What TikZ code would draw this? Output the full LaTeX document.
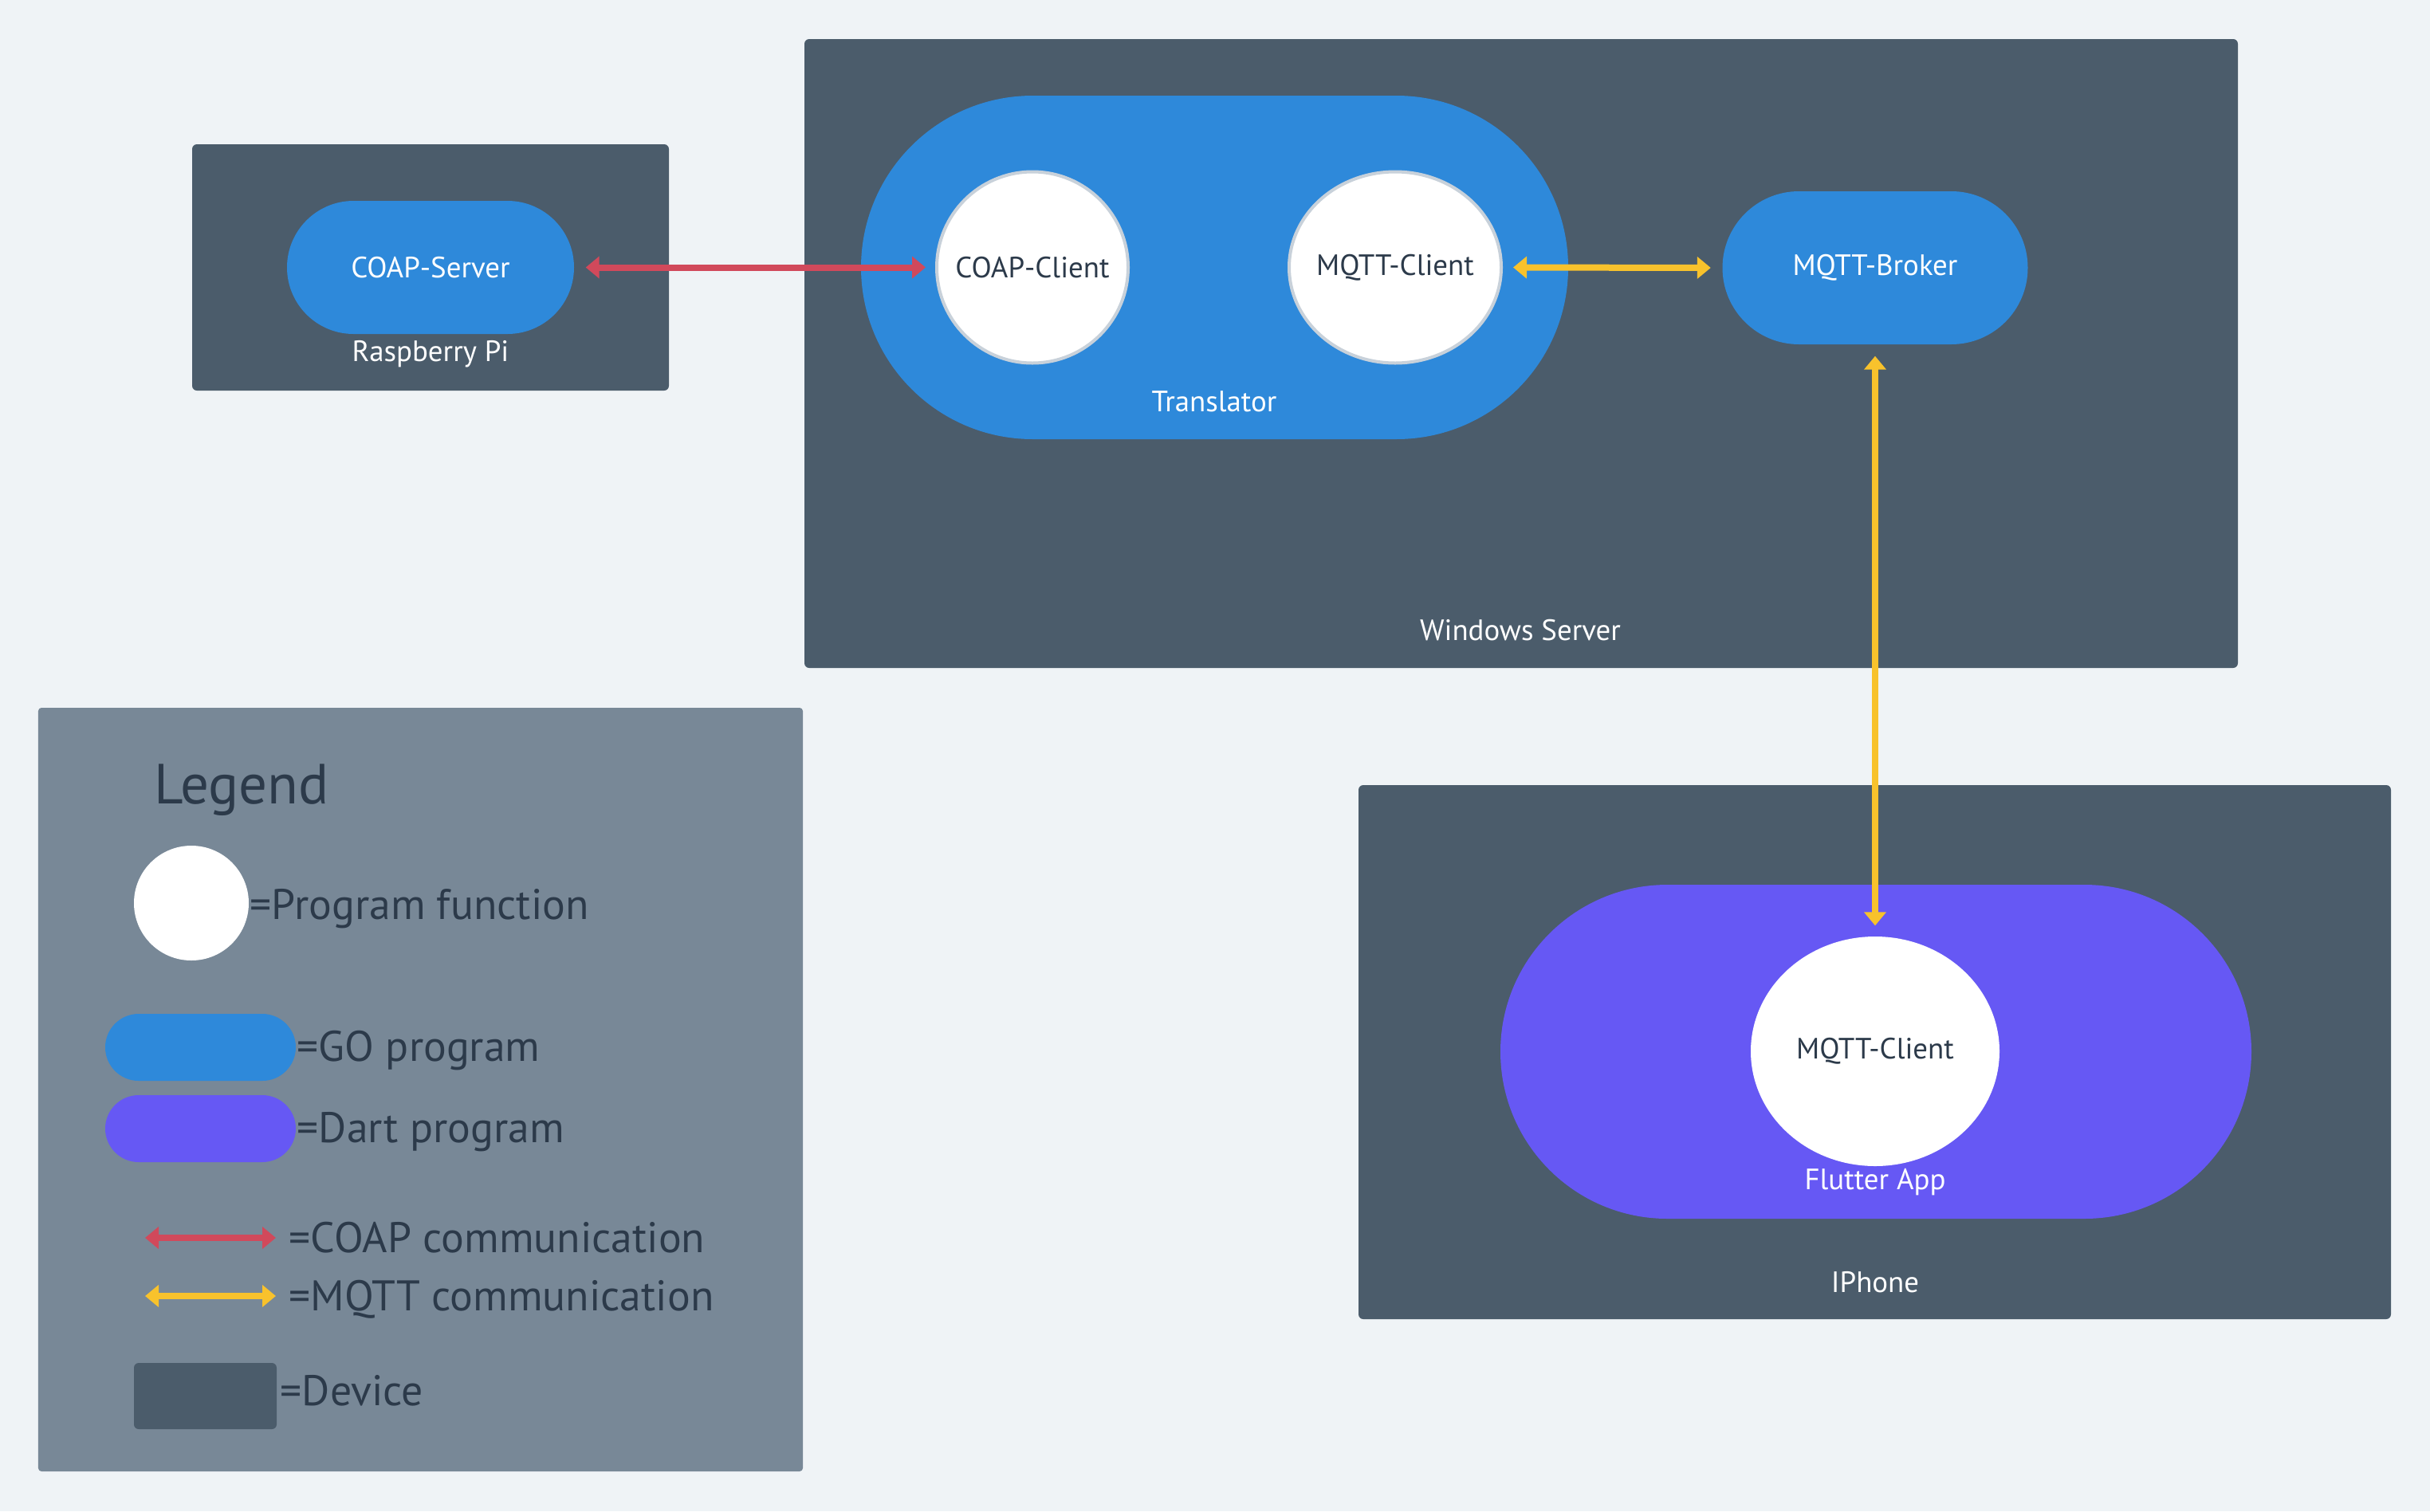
\documentclass[tikz,border=0pt]{standalone}
\usepackage{fontspec}
\setmainfont{PT Sans}
\usetikzlibrary{arrows.meta,shapes.geometric}
\definecolor{bg}{HTML}{EFF3F6}
\definecolor{dev}{HTML}{4B5C6B}
\definecolor{goblue}{HTML}{2E89DA}
\definecolor{dart}{HTML}{6658F4}
\definecolor{coap}{HTML}{D1495B}
\definecolor{mqtt}{HTML}{F8C22C}
\definecolor{legbg}{HTML}{788897}
\definecolor{ink}{HTML}{2C3A4A}
\definecolor{ring}{HTML}{C8D1DA}
\begin{document}
\begin{tikzpicture}[x=1cm,y=-1cm,
  device/.style={rectangle, fill=dev, rounded corners=0.06cm, inner sep=0pt},
  gopill/.style={rectangle, fill=goblue, inner sep=0pt, text=white, font=\fontsize{10.5}{12}\selectfont},
  dartpill/.style={rectangle, fill=dart, inner sep=0pt},
  func/.style={ellipse, fill=white, inner sep=0pt},
  functext/.style={text=ink, inner sep=0pt, font=\fontsize{10.5}{12}\selectfont},
  ringed/.style={draw=ring, line width=0.04cm},
  lbl/.style={text=white, inner sep=0pt, font=\fontsize{10.5}{12}\selectfont},
  legtext/.style={text=ink, inner sep=0pt, anchor=base west, font=\fontsize{15.3}{18}\selectfont},
  link/.style={line width=0.08cm, {Triangle[length=0.17cm,width=0.27cm]}-{Triangle[length=0.17cm,width=0.27cm]}}
]
\useasboundingbox (0,0) rectangle (30.48,18.96);
\fill[bg] (0,0) rectangle (30.48,18.96);

% devices
\node[device, minimum width=5.98cm, minimum height=3.09cm] (rpi) at (5.40,3.355) {};
\node[device, minimum width=17.98cm, minimum height=7.89cm] (win) at (19.08,4.435) {};
\node[device, minimum width=12.95cm, minimum height=6.70cm] (iphone) at (23.515,13.20) {};

% raspberry pi
\node[gopill, minimum width=3.60cm, minimum height=1.67cm, rounded corners=0.835cm] (cserver) at (5.40,3.355) {COAP-Server};
\node[lbl] (rpilbl) at (5.40,4.44) {Raspberry Pi};

% windows server
\node[gopill, minimum width=8.87cm, minimum height=4.31cm, rounded corners=2.155cm] (trans) at (15.235,3.355) {};
\node[lbl] (translbl) at (15.23,5.04) {Translator};
\node[func, ringed, minimum width=2.40cm, minimum height=2.40cm] (cclient) at (12.95,3.355) {};
\node[functext] (cclienttxt) at (cclient.center) {COAP-Client};
\node[func, ringed, minimum width=2.66cm, minimum height=2.40cm] (tmqtt) at (17.50,3.355) {};
\node[functext] (tmqtttxt) at (tmqtt.center) {MQTT-Client};
\node[gopill, minimum width=3.83cm, minimum height=1.92cm, rounded corners=0.96cm] (broker) at (23.52,3.36) {MQTT-Broker};
\node[lbl] (winlbl) at (19.07,7.91) {Windows Server};

% iphone
\node[dartpill, minimum width=9.42cm, minimum height=4.19cm, rounded corners=2.095cm] (flutter) at (23.53,13.195) {};
\node[func, minimum width=3.12cm, minimum height=2.88cm] (fmqtt) at (23.52,13.19) {};
\node[functext] (fmqtttxt) at (fmqtt.center) {MQTT-Client};
\node[lbl] (flutterlbl) at (23.52,14.83) {Flutter App};
\node[lbl] (iphonelbl) at (23.52,16.09) {IPhone};

% connectors
\draw[link, coap, shorten <=0.14cm, shorten >=0.12cm] (cserver.east) -- (cclient.west);
\draw[link, mqtt, shorten <=0.13cm, shorten >=0.14cm] (tmqtt.east) -- (broker.west);
\draw[link, mqtt, shorten <=0.14cm, shorten >=0.13cm] (broker.south) -- (fmqtt.north);

% legend
\node[rectangle, fill=legbg, rounded corners=0.04cm, minimum width=9.59cm, minimum height=9.58cm, inner sep=0pt] (legend) at (5.275,13.67) {};
\node[text=ink, inner sep=0pt, anchor=base west, font=\fontsize{20.2}{24}\selectfont] (legtitle) at (1.93,10.08) {Legend};
\node[circle, fill=white, minimum size=1.44cm, inner sep=0pt] (legfunc) at (2.40,11.33) {};
\node[legtext] (legfunctxt) at (3.13,11.53) {=Program function};
\node[gopill, minimum width=2.39cm, minimum height=0.84cm, rounded corners=0.42cm] (leggo) at (2.515,13.14) {};
\node[legtext] (leggotxt) at (3.72,13.31) {=GO program};
\node[dartpill, minimum width=2.39cm, minimum height=0.84cm, rounded corners=0.42cm] (legdart) at (2.515,14.16) {};
\node[legtext] (legdarttxt) at (3.72,14.33) {=Dart program};
\coordinate (lca) at (1.82,15.53);
\coordinate (lcb) at (3.46,15.53);
\draw[link, coap] (lca) -- (lcb);
\node[legtext] (legcoaptxt) at (3.62,15.71) {=COAP communication};
\coordinate (lma) at (1.82,16.26);
\coordinate (lmb) at (3.46,16.26);
\draw[link, mqtt] (lma) -- (lmb);
\node[legtext] (legmqtttxt) at (3.62,16.44) {=MQTT communication};
\node[device, minimum width=1.79cm, minimum height=0.83cm] (legdev) at (2.575,17.515) {};
\node[legtext] (legdevtxt) at (3.51,17.63) {=Device};
\end{tikzpicture}
\end{document}
